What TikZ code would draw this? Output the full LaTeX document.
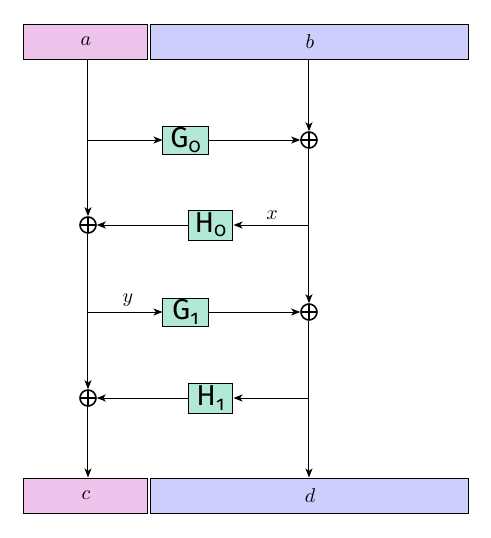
\documentclass[tikz,border=0pt]{standalone}
\usepackage{fontspec}
\newfontfamily\labfont[Numbers=OldStyle]{Fira Sans}
\usetikzlibrary{arrows.meta}
\definecolor{pinkbox}{RGB}{238,196,236}
\definecolor{bluebox}{RGB}{206,206,252}
\definecolor{greenbox}{RGB}{178,232,216}
\begin{document}
\begin{tikzpicture}[x=0.5pt,y=-0.5pt,
  >={Stealth[length=4.5pt,width=3.5pt,inset=1.2pt]},
  conn/.style={->,line width=0.5pt},
  regbox/.style={draw,line width=0.5pt,minimum height=17.5pt,inner sep=0pt},
  fbox/.style={draw,line width=0.5pt,fill=greenbox,minimum width=23pt,minimum height=14pt,inner sep=0pt,font=\labfont\Large},
  hbox/.style={fbox,minimum width=22pt,minimum height=15pt},
  oplus/.style={circle,draw,line width=0.8pt,minimum size=8pt,inner sep=0pt,
    path picture={\draw[line width=0.8pt] (path picture bounding box.north) -- (path picture bounding box.south) (path picture bounding box.west) -- (path picture bounding box.east);}}]
\useasboundingbox (0,0) rectangle (491,538);
% registers
\node[regbox,fill=pinkbox,minimum width=62pt] (a) at (86,41.5) {$a$};
\node[regbox,fill=bluebox,minimum width=159pt] (b) at (310,41.5) {$b$};
\node[regbox,fill=pinkbox,minimum width=62pt] (c) at (86,495.5) {$c$};
\node[regbox,fill=bluebox,minimum width=159pt] (d) at (310,495.5) {$d$};
% adders
\node[oplus] (pr1) at (309,140) {};
\node[oplus] (pl1) at (88,225) {};
\node[oplus] (pr2) at (309,312) {};
\node[oplus] (pl2) at (88,398) {};
% function boxes
\node[fbox] (G0) at (186,140) {G\textsubscript{0}};
\node[hbox] (H0) at (211,225) {H\textsubscript{0}};
\node[fbox] (G1) at (186,312) {G\textsubscript{1}};
\node[hbox] (H1) at (211,398) {H\textsubscript{1}};
% branch points
\coordinate (bg0) at (88,140);
\coordinate (bh0) at (309,225);
\coordinate (bg1) at (88,312);
\coordinate (bh1) at (309,398);
% vertical lines
\draw[conn] (a.south -| pl1) -- (pl1.north);
\draw[conn] (pl1.south) -- (pl2.north);
\draw[conn] (pl2.south) -- (c.north -| pl2);
\draw[conn] (b.south -| pr1) -- (pr1.north);
\draw[conn] (pr1.south) -- (pr2.north);
\draw[conn] (pr2.south) -- (d.north -| pr2);
% horizontal lines
\draw[conn] (bg0) -- (G0.west);
\draw[conn] (G0.east) -- (pr1.west);
\draw[conn] (bh0) -- (H0.east);
\draw[conn] (H0.west) -- (pl1.east);
\draw[conn] (bg1) -- (G1.west);
\draw[conn] (G1.east) -- (pr2.west);
\draw[conn] (bh1) -- (H1.east);
\draw[conn] (H1.west) -- (pl2.east);
% labels
\node (lx) at (272,215) {$x$};
\node (ly) at (128,300) {$y$};
\end{tikzpicture}
\end{document}
